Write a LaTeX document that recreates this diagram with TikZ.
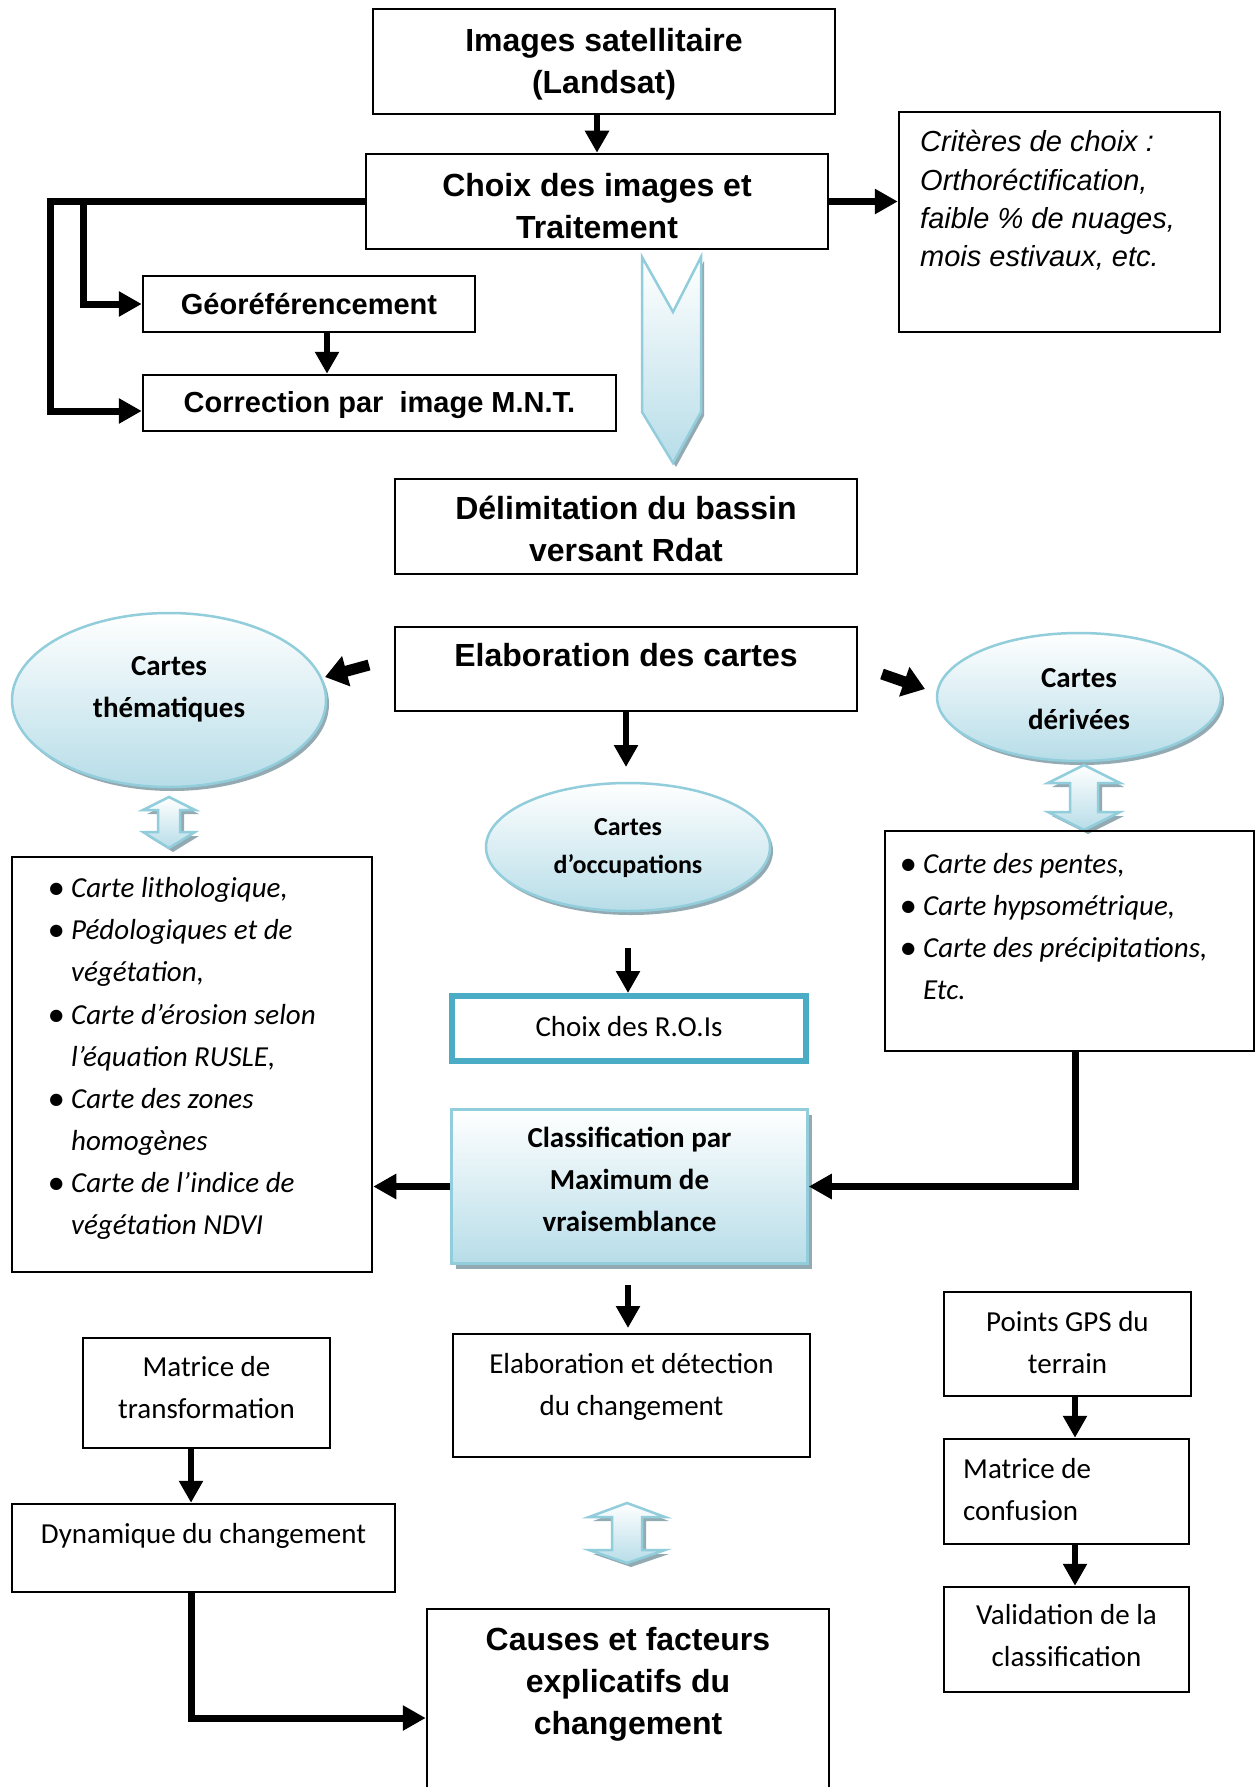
\documentclass[tikz,border=0pt]{standalone}
\usepackage{fontspec}
\usetikzlibrary{arrows.meta,shapes.geometric,shadows,calc}
\newfontfamily\arialf{Liberation Sans}
\newfontfamily\calf{Carlito}
\definecolor{lb}{HTML}{B7DDE8}
\definecolor{lbd}{HTML}{92CDDC}
\definecolor{roisc}{HTML}{4BACC6}
\definecolor{shc}{HTML}{93AAB2}
\newcommand\DblArr[7]{%
  \fill[shc] ({#1+4},{#2+4}) -- ({#1+#6+4},{#3+4}) -- ({#1+#7+4},{#3+4}) -- ({#1+#7+4},{#4+4}) -- ({#1+#6+4},{#4+4}) -- ({#1+4},{#5+4}) -- ({#1-#6+4},{#4+4}) -- ({#1-#7+4},{#4+4}) -- ({#1-#7+4},{#3+4}) -- ({#1-#6+4},{#3+4}) -- cycle;
  \path[draw=lbd,line width=2.5pt,line join=miter,top color=white,bottom color=lb] (#1,#2) -- ({#1+#6},#3) -- ({#1+#7},#3) -- ({#1+#7},#4) -- ({#1+#6},#4) -- (#1,#5) -- ({#1-#6},#4) -- ({#1-#7},#4) -- ({#1-#7},#3) -- ({#1-#6},#3) -- cycle;}
\newcommand\bul{\makebox[22pt][l]{\upshape\bfseries •}}
\newcommand\nobul{\hspace*{22pt}}
\begin{document}
\begin{tikzpicture}[x=1pt,y=-1pt,
  boxs/.style={draw=black,line width=2.5pt,rectangle,inner sep=0pt},
  ab/.style={font=\arialf\bfseries\fontsize{32}{42}\selectfont,align=center,inner sep=0pt},
  abs/.style={font=\arialf\bfseries\fontsize{29}{38}\selectfont},
  ai/.style={font=\arialf\itshape\fontsize{29}{38.4}\selectfont,inner sep=0pt},
  cb/.style={font=\calf\bfseries\fontsize{29}{42}\selectfont,align=center,inner sep=0pt},
  cbs/.style={font=\calf\bfseries\fontsize{26}{38.5}\selectfont,align=center,inner sep=0pt},
  cr/.style={font=\calf\fontsize{29}{42}\selectfont,align=center,inner sep=0pt},
  ci/.style={font=\calf\itshape\fontsize{29}{42.1}\selectfont,align=left,inner sep=0pt},
  ell/.style={ellipse,draw=lbd,line width=2.5pt,inner sep=0pt,top color=white,bottom color=lb,
    drop shadow={shadow xshift=3pt,shadow yshift=-4pt,fill=shc,opacity=1}},
  cls/.style={rectangle,draw=lbd,line width=2.5pt,inner sep=0pt,top color=white,bottom color=lb,
    drop shadow={shadow xshift=4pt,shadow yshift=-5pt,fill=shc,opacity=1}},
  connL/.style={line width=7pt,-{Triangle[length=23pt,width=24pt]}},
  connV/.style={line width=5.5pt,-{Triangle[length=22pt,width=23pt]}},
  fatarr/.style={line width=11pt,-{Triangle[length=22pt,width=30pt]}}]
\useasboundingbox (0,0) rectangle (1256,1787);
\fill[white] (0,0) rectangle (1256,1787);

% top part
\node[boxs,minimum width=462pt,minimum height=105pt] (img) at (604,61.5) {};
\node[ab] (imgt) at (604,64) {Images satellitaire\\(Landsat)};
\node[boxs,minimum width=462pt,minimum height=95pt] (choix) at (597,201.5) {};
\node[ab] (choixt) at (597,206) {Choix des images et\\Traitement};
\node[boxs,minimum width=321pt,minimum height=220pt] (crit) at (1059.5,222) {};
\node[ai,anchor=west,align=left] (critt) at (920,200.5) {Critères de choix :\\Orthoréctification,\\faible \% de nuages,\\mois estivaux, etc.};
\node[boxs,abs,minimum width=332pt,minimum height=56pt] (geo) at (309,304) {Géoréférencement};
\node[boxs,minimum width=473pt,minimum height=56pt] (corr) at (379.5,403) {};
\node[abs,inner sep=0pt] (corrt) at (379.5,405) {Correction par\ \ image M.N.T.};

% chevron
\fill[shc] (645,261) -- (676,316) -- (704,261) -- (704,416) -- (676,467) -- (645,416) -- cycle;
\path[draw=lbd,line width=2.5pt,top color=white,bottom color=lb] (642,257) -- (673,312) -- (701,257) -- (701,412) -- (673,463) -- (642,412) -- cycle;

\node[boxs,minimum width=462pt,minimum height=95pt] (delim) at (626,526.5) {};
\node[ab] (delimt) at (626,529) {Délimitation du bassin\\versant Rdat};
\node[boxs,minimum width=462pt,minimum height=84pt] (elab) at (626,669) {};
\node[ab] (elabt) at (626,655) {Elaboration des cartes};

% ellipses
\node[ell,minimum width=314pt,minimum height=174pt] (them) at (169,700) {};
\node[cb] (themt) at (169,689) {Cartes\\thématiques};
\node[ell,minimum width=284pt,minimum height=128pt] (deriv) at (1079,697) {};
\node[cb] (derivt) at (1079,699) {Cartes\\dérivées};
\node[ell,minimum width=284pt,minimum height=128pt] (occ) at (628,847) {};
\node[cbs] (occt) at (628,848) {Cartes\\d’occupations};

% double arrows
\DblArr{169}{797}{810}{832}{848}{26}{11}
\DblArr{1084}{765}{783}{812}{830}{36}{14}
\DblArr{627}{1503}{1517}{1550}{1563}{38}{15}

% lists
\node[boxs,minimum width=360pt,minimum height=415pt] (llist) at (192,1064.5) {};
\node[ci,anchor=west] (llistt) at (49,1058.6) {\bul Carte lithologique,\\
\bul Pédologiques et de\\
\nobul végétation,\\
\bul Carte d’érosion selon\\
\nobul l’équation RUSLE,\\
\bul Carte des zones\\
\nobul homogènes\\
\bul Carte de l’indice de\\
\nobul végétation NDVI};
\node[boxs,minimum width=369pt,minimum height=220pt] (rlist) at (1069.5,941) {};
\node[ci,anchor=west] (rlistt) at (901,926.5) {\bul Carte des pentes,\\
\bul Carte hypsométrique,\\
\bul Carte des précipitations,\\
\nobul Etc.};

% middle column
\node[draw=roisc,line width=6pt,inner sep=0pt,minimum width=354pt,minimum height=65pt] (rois) at (629,1028.5) {};
\node[cr] (roist) at (629,1026.5) {Choix des R.O.Is};
\node[cls,minimum width=356pt,minimum height=154pt] (classif) at (629.5,1186.5) {};
\node[cb] (classift) at (629.5,1179) {Classification par\\Maximum de\\vraisemblance};
\node[boxs,minimum width=357pt,minimum height=123pt] (elabdet) at (631.5,1395.5) {};
\node[cr] (elabdett) at (631.5,1386.5) {Elaboration et détection\\du changement};

% right column
\node[boxs,minimum width=247pt,minimum height=104pt] (gps) at (1067.5,1344) {};
\node[cr] (gpst) at (1067.5,1343) {Points GPS du\\terrain};
\node[boxs,minimum width=245pt,minimum height=105pt] (mconf) at (1066.5,1491.5) {};
\node[cr,anchor=west,align=left] (mconft) at (963,1490) {Matrice de\\confusion};
\node[boxs,minimum width=245pt,minimum height=105pt] (valid) at (1066.5,1639.5) {};
\node[cr] (validt) at (1066.5,1636) {Validation de la\\classification};

% left bottom
\node[boxs,minimum width=247pt,minimum height=110pt] (mtrans) at (206.5,1393) {};
\node[cr] (mtranst) at (206.5,1388) {Matrice de\\transformation};
\node[boxs,minimum width=383pt,minimum height=88pt] (dyn) at (203.5,1548) {};
\node[cr] (dynt) at (203.5,1536) {Dynamique du changement};
\node[boxs,minimum width=402pt,minimum height=191pt] (causes) at (628,1704.5) {};
\node[ab] (causest) at (628,1684) {Causes et facteurs\\explicatifs du\\changement};

% connectors
\draw[connV] (img.south -| choix.north) -- (choix.north);
\draw[connL] (choix.east) -- (crit.west |- choix.east);
\coordinate (jl) at (50,199);
\coordinate (jm) at (83,199);
\draw[connL] (choix.west) -- (jl |- choix.west) |- ($(corr.west)+(0,8)$);
\draw[connL] (jm |- choix.west) |- (geo.west);
\coordinate (g1) at ($(geo.south)+(18,0)$);
\draw[connV] (g1) -- (g1 |- corr.north);

\coordinate (d1s) at (369,665);
\coordinate (d1e) at (325,677);
\draw[fatarr] (d1s) -- (d1e);
\coordinate (d2s) at (882,674);
\coordinate (d2e) at (925,689);
\draw[fatarr] (d2s) -- (d2e);
\coordinate (o1) at (626,767);
\draw[connV] (elab.south) -- (o1);
\coordinate (r1) at (628,948);
\draw[connV] (r1) -- (rois.north -| r1);
\draw[connL] (classif.west) -- (llist.east |- classif.west);
\coordinate (rr) at (1075,1051);
\draw[connL] (rlist.south -| rr) |- (classif.east);
\coordinate (c1) at (628,1285);
\coordinate (c2) at (628,1328);
\draw[connV] (c1) -- (c2);
\coordinate (m1) at (191,1448);
\draw[connV] (mtrans.south -| m1) -- (dyn.north -| m1);
\coordinate (k1) at (191,1718);
\draw[connL] (dyn.south -| k1) |- (causes.west |- k1);
\coordinate (v1) at (1075,0);
\draw[connV] (gps.south -| v1) -- (mconf.north -| v1);
\draw[connV] (mconf.south -| v1) -- (valid.north -| v1);
\end{tikzpicture}
\end{document}
